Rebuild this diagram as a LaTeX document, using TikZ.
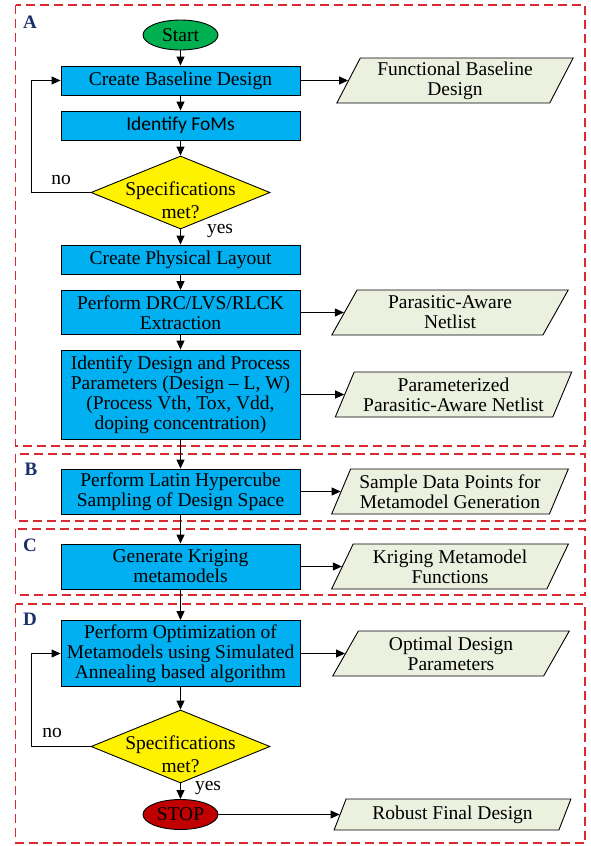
\documentclass[tikz,border=0pt]{standalone}
\usepackage{fontspec}
\setmainfont{Liberation Serif}
\newfontfamily\calibfont{Carlito}
\usetikzlibrary{shapes.geometric,arrows.meta}

\definecolor{boxblue}{HTML}{00B0F0}
\definecolor{datagreen}{HTML}{EBF1DE}
\definecolor{startgreen}{HTML}{00B050}
\definecolor{stopred}{HTML}{C00000}
\definecolor{framered}{HTML}{DA2A2F}
\definecolor{partblue}{HTML}{1B2F6B}

\begin{document}
\begin{tikzpicture}[x=1pt,y=-1pt,>={Triangle[length=9pt,width=8pt]},
    every node/.style={font=\fontsize{19.5}{20}\selectfont},
    box/.style={draw,line width=0.9pt,fill=boxblue,minimum width=239pt,inner sep=0pt,align=center},
    data/.style={draw,line width=0.9pt,fill=datagreen,trapezium,trapezium left angle=63,
        trapezium right angle=117,trapezium stretches=true,minimum width=237pt,
        minimum height=45pt,inner sep=0pt,align=center},
    decision/.style={draw,line width=0.9pt,fill=yellow,diamond,minimum width=179pt,
        minimum height=73pt,inner sep=0pt},
    term/.style={draw,line width=0.9pt,ellipse,minimum width=75pt,minimum height=30pt,inner sep=0pt},
    frame/.style={draw=framered,line width=1.3pt,dash pattern=on 9pt off 5pt},
    flow/.style={->,line width=0.9pt},
    part/.style={font=\fontsize{19}{19}\selectfont\bfseries,text=partblue}]

\useasboundingbox (0,0) rectangle (590,846);

% Rahmen
\draw[frame] (15.5,5) rectangle (585,446);
\draw[frame] (15.5,454) rectangle (585,521);
\draw[frame] (15.5,529) rectangle (585,595);
\draw[frame] (15.5,604) rectangle (585,843);

\node[part] (partA) at (30,22) {A};
\node[part] (partB) at (31,469) {B};
\node[part] (partC) at (30,545) {C};
\node[part] (partD) at (30,619) {D};

% Ablauf
\node[term,fill=startgreen] (start) at (180.5,35) {Start};
\node[box,minimum height=29pt] (cbd) at (180.5,80.5) {Create Baseline Design};
\node[box,minimum height=29pt,font=\fontsize{19.5}{20}\calibfont] (foms) at (180.5,125.5) {Identify FoMs};
\node[decision,label={[align=center,font=\fontsize{19.5}{23}\selectfont,yshift=-8pt]center:Specifications\\met?}] (dec1) at (180.5,192.5) {};
\node[box,minimum height=29pt] (cpl) at (180.5,259.5) {Create Physical Layout};
\node[box,minimum height=44pt] (drc) at (180.5,312.5) {Perform DRC/LVS/RLCK\\Extraction};
\node[box,minimum height=89pt] (idp) at (180.5,394.5) {Identify Design and Process\\Parameters (Design -- L, W)\\(Process Vth, Tox, Vdd,\\doping concentration)};
\node[box,minimum height=45pt] (lhs) at (180.5,491.5) {Perform Latin Hypercube\\Sampling of Design Space};
\node[box,minimum height=45pt] (krg) at (180.5,566.5) {Generate Kriging\\metamodels};
\node[box,minimum height=66pt] (opt) at (180.5,653.5) {Perform Optimization of\\Metamodels using Simulated\\Annealing based algorithm};
\node[decision,label={[align=center,font=\fontsize{19.5}{23}\selectfont,yshift=-8pt]center:Specifications\\met?}] (dec2) at (180.5,746.5) {};
\node[term,fill=stopred] (stop) at (180.5,814.5) {STOP};

% Ergebnisse
\node[data] (fbd) at (455,80.5) {Functional Baseline\\Design};
\node[data] (pan) at (450,312.5) {Parasitic-Aware\\Netlist};
\node[data] (ppan) at (453.5,394.5) {Parameterized\\Parasitic-Aware Netlist};
\node[data] (sdp) at (450,491.5) {Sample Data Points for\\Metamodel Generation};
\node[data] (kmf) at (450,566.5) {Kriging Metamodel\\Functions};
\node[data] (odp) at (451,653.5) {Optimal Design\\Parameters};
\node[data,minimum height=31pt] (rfd) at (452.5,814.5) {Robust Final Design};

% Verbindungen
\draw[flow] (start) -- (cbd);
\draw[flow] (cbd) -- (foms);
\draw[flow] (foms) -- (dec1);
\draw[flow] (dec1) -- (cpl);
\draw[flow] (cpl) -- (drc);
\draw[flow] (drc) -- (idp);
\draw[flow] (idp) -- (lhs);
\draw[flow] (lhs) -- (krg);
\draw[flow] (krg) -- (opt);
\draw[flow] (opt) -- (dec2);
\draw[flow] (dec2) -- (stop);

\draw[flow] (cbd) -- (fbd);
\draw[flow] (drc) -- (pan);
\draw[flow] (idp) -- (ppan);
\draw[flow] (lhs) -- (sdp);
\draw[flow] (krg) -- (kmf);
\draw[flow] (opt) -- (odp);
\draw[flow] (stop) -- (rfd);

% Rueckfuehrungen
\coordinate (loopA) at (31,192.5);
\coordinate (loopD) at (31,746.5);
\draw[flow] (dec1.west) -- (loopA) |- (cbd.west);
\draw[flow] (dec2.west) -- (loopD) |- (opt.west);

% Beschriftungen
\node (noA) at (61,180) {no};
\node (yesA) at (220,231) {yes};
\node (noD) at (52,733) {no};
\node (yesD) at (208,788) {yes};

\end{tikzpicture}
\end{document}
